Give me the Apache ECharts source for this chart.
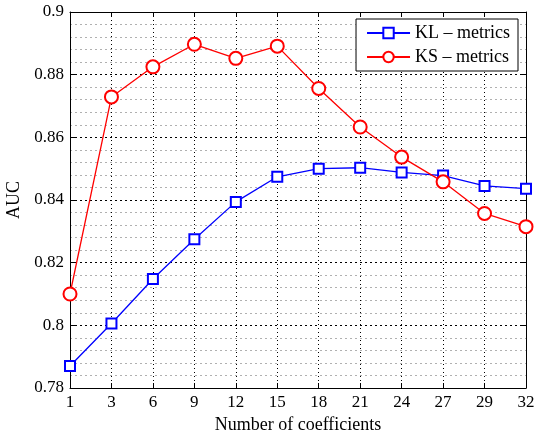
<!DOCTYPE html>
<html>
<head>
<meta charset="utf-8">
<script src="https://cdn.jsdelivr.net/npm/echarts@6/dist/echarts.min.js"></script>
<style>
html,body{margin:0;padding:0;background:#fff;overflow:hidden;}
#c{width:534px;height:432px;}
</style>
</head>
<body>
<div id="c"></div>
<script>
var categories = ['1','3','6','9','12','15','18','21','24','27','29','32'];
var klValues = [0.787, 0.8006, 0.8148, 0.8275, 0.8394, 0.8474, 0.8500, 0.8503, 0.8488, 0.8478, 0.8445, 0.8436];
var ksValues = [0.810, 0.8729, 0.8825, 0.8897, 0.8852, 0.8891, 0.8756, 0.8633, 0.8537, 0.8458, 0.8357, 0.8315];
var seriesNames = ['KL \u2013 metrics', 'KS \u2013 metrics'];
var xName = 'Number of coefficients';
var yName = 'AUC';

var FONT = 'Liberation Serif';
var chart = echarts.init(document.getElementById('c'), null, {renderer:'canvas', width:534, height:432});
var axisLine = {show:true, onZero:false, lineStyle:{color:'#000', width:1}};
chart.setOption({
  animation:false,
  backgroundColor:'#fff',
  textStyle:{fontFamily:FONT},
  grid:{left:70, right:8, top:12, bottom:44, containLabel:false, outerBoundsMode:'none'},
  legend:{
    orient:'vertical', right:16, top:19,
    backgroundColor:'#fff', borderColor:'#000', borderWidth:1,
    padding:[5,8,5,10], itemWidth:43, itemHeight:13, itemGap:6,
    textStyle:{fontFamily:FONT, fontSize:18, color:'#000'},
    data:seriesNames
  },
  xAxis:[{
    type:'category', data:categories, boundaryGap:false,
    name:xName, nameLocation:'middle', nameGap:26,
    nameTextStyle:{fontFamily:FONT, fontSize:18, color:'#000'},
    axisLine:axisLine,
    axisTick:{show:true, inside:true, length:5, alignWithLabel:true, lineStyle:{color:'#000'}},
    axisLabel:{fontFamily:FONT, fontSize:17, color:'#000', margin:6},
    splitLine:{show:true, lineStyle:{color:'#000', type:[1,3], width:1}}
  },{
    type:'category', data:categories, boundaryGap:false, position:'top',
    axisLine:axisLine,
    axisTick:{show:true, inside:true, length:5, lineStyle:{color:'#000'}},
    axisLabel:{show:false}, splitLine:{show:false}
  }],
  yAxis:[{
    type:'value', min:0.78, max:0.9, interval:0.02,
    name:yName, nameLocation:'middle', nameGap:47,
    nameTextStyle:{fontFamily:FONT, fontSize:18, color:'#000'},
    axisLine:axisLine,
    axisTick:{show:true, inside:true, length:5, lineStyle:{color:'#000'}},
    axisLabel:{fontFamily:FONT, fontSize:17, color:'#000', margin:6,
      formatter:function(v){return String(parseFloat(v.toFixed(2)));}},
    splitLine:{show:true, lineStyle:{color:'#000', type:[2,3], width:1}},
    minorTick:{show:false, splitNumber:5},
    minorSplitLine:{show:true, lineStyle:{color:'#b0b0b0', type:[2,3], width:1}}
  },{
    type:'value', min:0.78, max:0.9, interval:0.02, position:'right',
    axisLine:axisLine,
    axisTick:{show:true, inside:true, length:5, lineStyle:{color:'#000'}},
    axisLabel:{show:false}, splitLine:{show:false}
  }],
  series:[{
    name:seriesNames[0], type:'line', data:klValues,
    symbol:'emptyRect', symbolSize:10,
    lineStyle:{color:'#0000ff', width:1.3},
    itemStyle:{color:'#0000ff', borderColor:'#0000ff', borderWidth:1.5},
    z:3
  },{
    name:seriesNames[1], type:'line', data:ksValues,
    symbol:'emptyCircle', symbolSize:13,
    lineStyle:{color:'#ff0000', width:1.3},
    itemStyle:{color:'#ff0000', borderColor:'#ff0000', borderWidth:1.5},
    z:4
  }]
});
</script>
</body>
</html>
